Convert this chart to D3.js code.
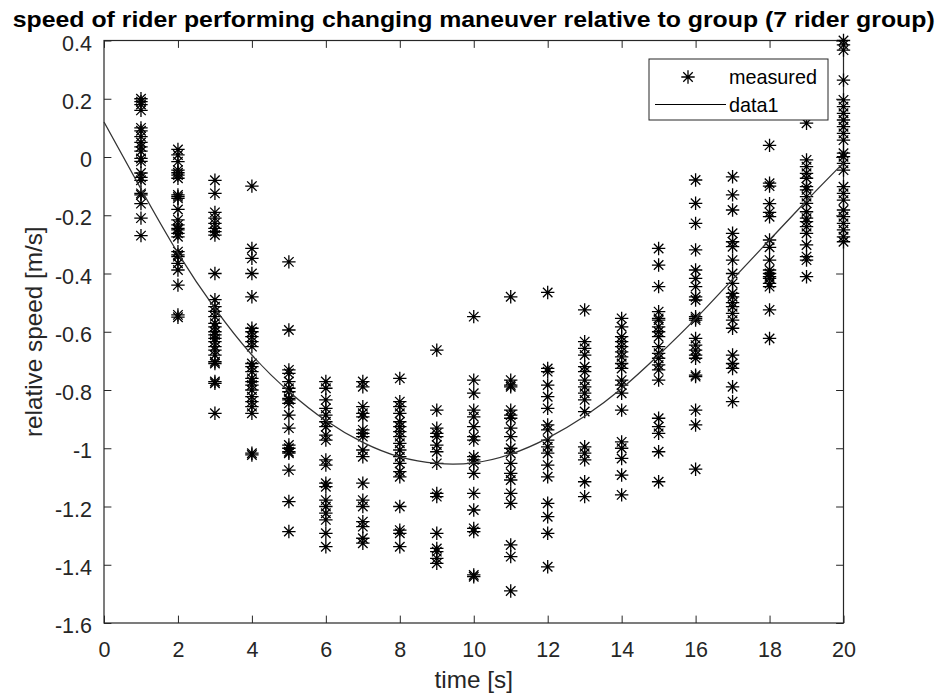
<!DOCTYPE html>
<html><head><meta charset="utf-8">
<script src="https://cdn.jsdelivr.net/npm/d3@7"></script>
<style>html,body{margin:0;padding:0;background:#fff;} svg{display:block;}</style>
</head><body><svg id="chart" width="940" height="695"></svg>
<script>
// ---- data ----
const times = [1,2,3,4,5,6,7,8,9,10,11,12,13,14,15,16,17,18,19,20];
const measured = [
  [0.20,0.19,0.18,0.16,0.10,0.09,0.07,0.05,0.035,0.02,-0.005,-0.015,-0.055,-0.07,-0.08,-0.125,-0.13,-0.16,-0.21,-0.27],
  [0.026,0.007,-0.016,-0.045,-0.054,-0.062,-0.073,-0.13,-0.136,-0.142,-0.18,-0.216,-0.233,-0.245,-0.25,-0.262,-0.274,-0.325,-0.336,-0.342,-0.365,-0.388,-0.44,-0.542,-0.55],
  [-0.08,-0.125,-0.19,-0.21,-0.228,-0.245,-0.256,-0.268,-0.40,-0.49,-0.514,-0.53,-0.548,-0.571,-0.583,-0.60,-0.611,-0.623,-0.634,-0.651,-0.663,-0.68,-0.703,-0.709,-0.771,-0.777,-0.88],
  [-0.10,-0.314,-0.348,-0.40,-0.48,-0.588,-0.60,-0.617,-0.634,-0.651,-0.709,-0.72,-0.737,-0.76,-0.771,-0.783,-0.80,-0.823,-0.84,-0.857,-0.88,-1.017,-1.023],
  [-0.36,-0.594,-0.731,-0.743,-0.771,-0.794,-0.806,-0.829,-0.834,-0.846,-0.886,-0.931,-0.989,-1.0,-1.012,-1.017,-1.075,-1.183,-1.286],
  [-0.771,-0.794,-0.834,-0.863,-0.886,-0.909,-0.926,-0.955,-0.972,-1.04,-1.058,-1.12,-1.132,-1.178,-1.20,-1.223,-1.246,-1.292,-1.338],
  [-0.771,-0.789,-0.857,-0.88,-0.892,-0.937,-0.949,-0.96,-1.006,-1.029,-1.12,-1.178,-1.20,-1.252,-1.269,-1.309,-1.326],
  [-0.76,-0.84,-0.857,-0.88,-0.909,-0.926,-0.943,-0.96,-0.983,-1.006,-1.029,-1.052,-1.08,-1.098,-1.20,-1.281,-1.292,-1.338],
  [-0.663,-0.869,-0.931,-0.949,-0.96,-0.989,-1.012,-1.052,-1.155,-1.166,-1.292,-1.344,-1.355,-1.378,-1.395],
  [-0.548,-0.766,-0.811,-0.869,-0.892,-0.926,-0.96,-0.972,-1.029,-1.04,-1.052,-1.086,-1.155,-1.212,-1.275,-1.286,-1.435,-1.441],
  [-0.48,-0.766,-0.783,-0.789,-0.869,-0.886,-0.897,-0.931,-0.96,-1.0,-1.017,-1.052,-1.086,-1.109,-1.155,-1.189,-1.332,-1.372,-1.49],
  [-0.465,-0.726,-0.737,-0.783,-0.823,-0.863,-0.92,-0.937,-0.972,-0.995,-1.017,-1.058,-1.098,-1.189,-1.235,-1.292,-1.407],
  [-0.525,-0.634,-0.657,-0.68,-0.72,-0.737,-0.766,-0.789,-0.811,-0.834,-0.874,-0.995,-1.017,-1.04,-1.115,-1.166],
  [-0.554,-0.583,-0.617,-0.634,-0.651,-0.669,-0.686,-0.709,-0.726,-0.766,-0.783,-0.811,-0.869,-0.978,-1.0,-1.035,-1.092,-1.16],
  [-0.314,-0.371,-0.445,-0.531,-0.554,-0.56,-0.583,-0.60,-0.617,-0.651,-0.674,-0.691,-0.714,-0.731,-0.766,-0.897,-0.926,-0.949,-1.012,-1.115],
  [-0.079,-0.159,-0.228,-0.319,-0.388,-0.417,-0.445,-0.48,-0.491,-0.548,-0.554,-0.56,-0.623,-0.646,-0.663,-0.68,-0.691,-0.749,-0.754,-0.869,-0.92,-1.072],
  [-0.068,-0.13,-0.182,-0.262,-0.291,-0.308,-0.354,-0.40,-0.434,-0.468,-0.48,-0.50,-0.514,-0.537,-0.56,-0.588,-0.68,-0.709,-0.726,-0.789,-0.84],
  [0.04,-0.09,-0.10,-0.16,-0.19,-0.205,-0.285,-0.31,-0.354,-0.388,-0.40,-0.411,-0.417,-0.434,-0.445,-0.525,-0.623],
  [0.116,-0.01,-0.033,-0.056,-0.073,-0.102,-0.113,-0.136,-0.159,-0.188,-0.21,-0.222,-0.239,-0.262,-0.302,-0.342,-0.354,-0.411],
  [0.40,0.385,0.367,0.264,0.196,0.173,0.15,0.127,0.104,0.081,0.058,0.013,0.001,-0.022,-0.045,-0.102,-0.125,-0.148,-0.182,-0.205,-0.228,-0.25,-0.274,-0.291]
];
const fitTimes  = [0,1,2,3,4,5,6,7,8,9,10,11,12,13,14,15,16,17,18,19,20];
const fitValues = [0.12,-0.11,-0.33,-0.52,-0.68,-0.805,-0.905,-0.98,-1.03,-1.052,-1.05,-1.02,-0.965,-0.89,-0.795,-0.68,-0.555,-0.42,-0.285,-0.15,-0.02];
const xTicks = [0,2,4,6,8,10,12,14,16,18,20];
const yTicks = [0.4,0.2,0,-0.2,-0.4,-0.6,-0.8,-1,-1.2,-1.4,-1.6];
const yTickLabels = ["0.4","0.2","0","-0.2","-0.4","-0.6","-0.8","-1","-1.2","-1.4","-1.6"];
const titleText = "speed of rider performing changing maneuver relative to group (7 rider group)";
const xLabel = "time [s]";
const yLabel = "relative speed [m/s]";
const legendLabels = ["measured","data1"];

// ---- drawing ----
const svg = d3.select("#chart");
const L = 104, R = 843.5, T = 40.5, B = 623;
const x = d3.scaleLinear().domain([0,20]).range([L,R]);
const y = d3.scaleLinear().domain([-1.6,0.4]).range([B,T]);
const font = "'Liberation Sans', Arial, Helvetica, sans-serif";
const axisCol = "#262626";
const tickLen = 7.4;

svg.append("rect").attr("width",940).attr("height",695).attr("fill","#fff");

function styleAxis(g){
  g.select(".domain").remove();
  g.selectAll(".tick line").attr("stroke",axisCol).attr("stroke-width",1);
  g.selectAll(".tick text").attr("fill",axisCol).style("font-family",font).style("font-size","21.5px");
}
svg.append("g").attr("transform",`translate(0,${B})`)
  .call(d3.axisBottom(x).tickValues(xTicks).tickSizeInner(-tickLen).tickSizeOuter(0).tickPadding(18.5).tickFormat(d=>String(d)))
  .call(styleAxis);
svg.append("g").attr("transform",`translate(0,${T})`)
  .call(d3.axisTop(x).tickValues(xTicks).tickSizeInner(-tickLen).tickSizeOuter(0).tickFormat(""))
  .call(styleAxis);
svg.append("g").attr("transform",`translate(${L},0)`)
  .call(d3.axisLeft(y).tickValues(yTicks).tickSizeInner(-tickLen).tickSizeOuter(0).tickPadding(12).tickFormat((d,i)=>yTickLabels[i]))
  .call(styleAxis)
  .call(g=>g.selectAll(".tick text").attr("dy","0.45em"));
svg.append("g").attr("transform",`translate(${R},0)`)
  .call(d3.axisRight(y).tickValues(yTicks).tickSizeInner(-tickLen).tickSizeOuter(0).tickFormat(""))
  .call(styleAxis);

svg.append("rect").attr("x",L).attr("y",T).attr("width",R-L).attr("height",B-T)
  .attr("fill","none").attr("stroke",axisCol).attr("stroke-width",1.2);

// asterisk marker
const s = 6.7, d = 4.75;
const starPath = `M${-s},0H${s}M0,${-s}V${s}M${-d},${-d}L${d},${d}M${-d},${d}L${d},${-d}`;

const pts = [];
times.forEach((t,i)=>measured[i].forEach(v=>pts.push([t,v])));
svg.append("g").selectAll("path").data(pts).join("path")
  .attr("transform",p=>`translate(${x(p[0])},${y(p[1])})`)
  .attr("d",starPath).attr("fill","none").attr("stroke","#000").attr("stroke-width",1.3);

const line = d3.line().x((t,i)=>x(t)).y((t,i)=>y(fitValues[i])).curve(d3.curveNatural);
svg.append("path").datum(fitTimes).attr("d",line)
  .attr("fill","none").attr("stroke","#333").attr("stroke-width",1.3);

// title & labels
svg.append("text").attr("x",(L+R)/2).attr("y",26.5).attr("text-anchor","middle")
  .style("font-family",font).style("font-size","22px").style("font-weight","bold").attr("fill","#000")
  .attr("textLength",922).attr("lengthAdjust","spacingAndGlyphs").text(titleText);
svg.append("text").attr("x",(L+R)/2).attr("y",688).attr("text-anchor","middle")
  .style("font-family",font).style("font-size","24.3px").attr("fill",axisCol).text(xLabel);
svg.append("text").attr("transform",`translate(41.5,${(T+B)/2}) rotate(-90)`).attr("text-anchor","middle")
  .style("font-family",font).style("font-size","24.3px").attr("fill",axisCol).text(yLabel);

// legend
const lg = svg.append("g");
lg.append("rect").attr("x",649).attr("y",59).attr("width",179).attr("height",61)
  .attr("fill","#fff").attr("stroke",axisCol).attr("stroke-width",1);
lg.append("path").attr("transform","translate(688,77)").attr("d",starPath)
  .attr("fill","none").attr("stroke","#000").attr("stroke-width",1.3);
lg.append("line").attr("x1",655).attr("x2",726).attr("y1",104.5).attr("y2",104.5)
  .attr("stroke","#000").attr("stroke-width",1.2);
lg.selectAll("text").data(legendLabels).join("text")
  .attr("x",729).attr("y",(dd,i)=>i===0?83.5:112)
  .style("font-family",font).style("font-size","19.8px").attr("fill","#000").text(dd=>dd);
</script></body></html>
